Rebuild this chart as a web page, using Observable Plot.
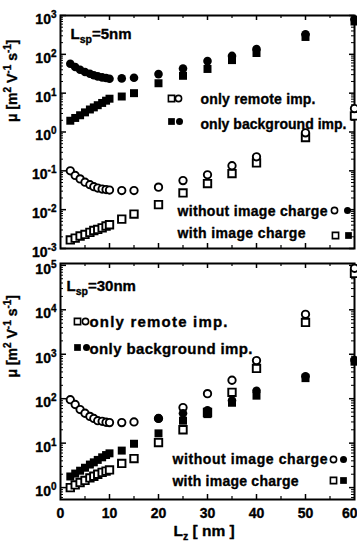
<!DOCTYPE html>
<html><head><meta charset="utf-8">
<script src="https://cdn.jsdelivr.net/npm/d3@7"></script>
<script src="https://cdn.jsdelivr.net/npm/@observablehq/plot@0.6"></script>
<style>
html,body{margin:0;padding:0;background:#fff;}
#chart{width:357px;height:542px;position:relative;overflow:hidden;background:#fff;}
#chart svg{display:block;overflow:visible;}
</style></head><body><div id="chart"></div>
<script>
// ---- data ----
const lz = [2, 3, 4, 5, 6, 6.8, 7.6, 8.5, 9.3, 10, 12.5, 15, 20, 25, 30, 35, 40, 50, 60];

// Panel 1: L_sp = 5 nm
const p1RemoteNoImage = [0.1, 0.076, 0.062, 0.051, 0.044, 0.039, 0.036, 0.034, 0.033, 0.032, 0.031, 0.031, 0.038, 0.056, 0.079, 0.135, 0.23, 0.95, 4];
const p1RemoteImage   = [0.00166, 0.00185, 0.0021, 0.0023, 0.0026, 0.0029, 0.0031, 0.0034, 0.0038, 0.0041, 0.0057, 0.0077, 0.0135, 0.027, 0.047, 0.085, 0.16, 0.72, 2.6];
const p1BgNoImage     = [57, 47, 40, 35, 31.5, 29, 27, 25.5, 24.5, 23.5, 24, 25, 31, 43, 67, 91, 137, 330, 800];
const p1BgImage       = [1.95, 2.3, 2.7, 3.2, 3.8, 4.3, 4.9, 5.6, 6.4, 7.2, 8.2, 10, 18, 28, 42, 71, 108, 280, 700];

// Panel 2: L_sp = 30 nm
const p2RemoteNoImage = [95, 74, 57, 47, 40, 36, 32, 31, 29.5, 29, 29, 30, 36, 63, 130, 260, 720, 7900, 86000];
const p2RemoteImage   = [1.0, 1.15, 1.3, 1.45, 1.65, 1.8, 2.0, 2.2, 2.35, 2.5, 3.5, 4.5, 10.3, 20, 49, 139, 480, 5200, 66000];
const p2BgNoImage     = [null, null, null, null, null, null, null, null, null, null, null, null, 36, 47, 55, 91, 150, 320, 740];
const p2BgImage       = [1.78, 2.07, 2.4, 2.8, 3.3, 3.7, 4.2, 4.8, 5.4, 5.9, 6.8, 9.7, 16.6, 32, 45, 81, 117, 290, 680];

// ticks
const p1Decades = [1e-3, 1e-2, 1e-1, 1, 10, 100, 1000];
const p2Decades = [1, 10, 100, 1e3, 1e4, 1e5];
const xLabelTicks = [0, 10, 20, 30, 40, 50];
const xLastLabel = [60];
const xMajorTicks = [10, 20, 30, 40, 50];
const xMinorTicks = [5, 15, 25, 35, 45, 55];

// legend / annotation texts
const yTitle = "μ [m^{2} V^{-1} s^{-1}]";
const xTitle = "L_{z} [ nm ]";
const p1Label = "L_{sp}=5nm";
const p2Label = "L_{sp}=30nm";
const lgRemote = "only remote imp.";
const lgBackground = "only background imp.";
const lgWithout = "without image charge";
const lgWith = "with image charge";

// ---- layout ----
const W = 357, ML = 60, MR = 3;
const FW = W - ML - MR;
const FONT = "'Liberation Sans', Arial, Helvetica, sans-serif";
const TXT = {fill: "black", stroke: "black", strokeWidth: 0.35};

const markStyles = {
  openSquare:   {symbol: "square", r: 4.2, fill: "white", stroke: "black", strokeWidth: 1.9},
  openCircle:   {symbol: "circle", r: 3.7, fill: "white", stroke: "black", strokeWidth: 1.9},
  filledSquare: {symbol: "square", r: 4.5, fill: "black"},
  filledCircle: {symbol: "circle", r: 4.3, fill: "black"}
};
const legendStyles = {
  openSquare:   {symbol: "square", r: 3.5, fill: "white", stroke: "black", strokeWidth: 1.6},
  openCircle:   {symbol: "circle", r: 3.1, fill: "white", stroke: "black", strokeWidth: 1.6},
  filledSquare: {symbol: "square", r: 3.8, fill: "black"},
  filledCircle: {symbol: "circle", r: 3.5, fill: "black"}
};

function buildPanel(cfg) {
  const FH = cfg.height - cfg.mt - cfg.mb;
  const minor = [];
  const bases = [cfg.decades[0] / 10, ...cfg.decades];
  for (const d of bases) for (let k = 2; k <= 9; k++) {
    const v = d * k;
    if (v >= cfg.yDomain[0] && v <= cfg.yDomain[1]) minor.push(v);
  }
  const marks = [];
  // ticks
  marks.push(Plot.tickY(cfg.decades, {y: d => d, insetRight: FW - 6, strokeWidth: 1.5}));
  marks.push(Plot.tickY(minor, {y: d => d, insetRight: FW - 3, strokeWidth: 1}));
  marks.push(Plot.tickY(cfg.decades, {y: d => d, insetLeft: FW - 5, strokeWidth: 1.5}));
  marks.push(Plot.tickY(minor, {y: d => d, insetLeft: FW - 3, strokeWidth: 1}));
  marks.push(Plot.tickX(xMajorTicks, {x: d => d, insetBottom: FH - 5, strokeWidth: 1.5}));
  marks.push(Plot.tickX(xMinorTicks, {x: d => d, insetBottom: FH - 3, strokeWidth: 1.2}));
  marks.push(Plot.tickX(xMajorTicks, {x: d => d, insetTop: FH - 5, strokeWidth: 1.5}));
  marks.push(Plot.tickX(xMinorTicks, {x: d => d, insetTop: FH - 3, strokeWidth: 1.2}));
  marks.push(Plot.frame({stroke: "black", strokeWidth: 2}));
  // y tick labels
  marks.push(Plot.text(cfg.decades, {
    y: d => d, frameAnchor: "left", dx: -4, dy: 4, textAnchor: "end",
    text: d => `10^{${Math.round(Math.log10(d))}}`, fontSize: 14, ...TXT
  }));
  // y title
  marks.push(Plot.text([yTitle], {
    text: d => d, frameAnchor: "left", dx: -48, dy: cfg.titleDy, rotate: -90, fontSize: 14, ...TXT
  }));
  // x labels
  if (cfg.xLabels) {
    marks.push(Plot.text(xLabelTicks, {x: d => d, text: d => String(d), frameAnchor: "bottom", dy: 18,
      lineAnchor: "bottom", textAnchor: "middle", fontSize: 14, ...TXT}));
    marks.push(Plot.text(xLastLabel, {x: d => d, text: d => String(d), frameAnchor: "bottom", dy: 18,
      lineAnchor: "bottom", textAnchor: "end", dx: 3, fontSize: 14, ...TXT}));
    marks.push(Plot.text([xTitle], {text: d => d, frameAnchor: "bottom-left", dx: 173 - ML, dy: 36,
      lineAnchor: "bottom", textAnchor: "start", fontSize: 15.5, ...TXT}));
  }
  // data series
  const ser = (arr, st) => Plot.dot(lz, {x: d => d, y: (d, i) => arr[i], ...markStyles[st]});
  marks.push(ser(cfg.remoteImage, "openSquare"));
  marks.push(ser(cfg.remoteNoImage, "openCircle"));
  marks.push(ser(cfg.bgImage, "filledSquare"));
  marks.push(ser(cfg.bgNoImage, "filledCircle"));
  // legend texts
  for (const t of cfg.texts) {
    marks.push(Plot.text([t.t], {text: d => d, frameAnchor: "top-left", dx: t.x - ML, dy: t.y - cfg.offset - cfg.mt,
      lineAnchor: "bottom", textAnchor: "start", fontSize: t.size || 14, ...TXT}));
  }
  for (const m of cfg.symbols) {
    marks.push(Plot.dot([0], {frameAnchor: "top-left", dx: m.x - ML, dy: m.y - cfg.offset - cfg.mt, ...legendStyles[m.k]}));
  }
  const svg = Plot.plot({
    width: W, height: cfg.height,
    marginLeft: ML, marginRight: MR, marginTop: cfg.mt, marginBottom: cfg.mb,
    x: {domain: [0, 60], axis: null},
    y: {type: "log", domain: cfg.yDomain, axis: null},
    style: {fontFamily: FONT, fontWeight: "bold", background: "transparent", overflow: "visible"},
    marks
  });
  // rich text: superscripts / subscripts
  const ns = "http://www.w3.org/2000/svg";
  svg.querySelectorAll("text").forEach(el => {
    const s = el.textContent;
    const lenItem = cfg.texts.find(t => t.t === s && t.len);
    if (lenItem) { el.setAttribute("textLength", lenItem.len); el.setAttribute("lengthAdjust", "spacing"); }
    if (!/[\^_]\{/.test(s)) return;
    while (el.firstChild) el.removeChild(el.firstChild);
    const re = /([\^_])\{([^}]*)\}|([^\^_]+)/g;
    let m, shift = 0;
    while ((m = re.exec(s))) {
      const ts = document.createElementNS(ns, "tspan");
      if (m[1]) {
        const target = m[1] === "^" ? -6 : 4;
        ts.setAttribute("dy", target - shift); shift = target;
        ts.setAttribute("font-size", m[1] === "^" ? 10 : 10.5);
        ts.textContent = m[2];
      } else {
        if (shift) { ts.setAttribute("dy", -shift); shift = 0; }
        ts.textContent = m[3];
      }
      el.appendChild(ts);
    }
  });
  return svg;
}

const chart = document.getElementById("chart");
chart.appendChild(buildPanel({
  height: 256, mt: 15, mb: 8, offset: 0, yDomain: [1e-3, 1e3], decades: p1Decades, titleDy: -10,
  remoteNoImage: p1RemoteNoImage, remoteImage: p1RemoteImage, bgNoImage: p1BgNoImage, bgImage: p1BgImage,
  xLabels: false,
  texts: [
    {t: p1Label, x: 70, y: 38, size: 15},
    {t: lgRemote, x: 200, y: 103, len: 115},
    {t: lgBackground, x: 200, y: 128, len: 146},
    {t: lgWithout, x: 177, y: 215, len: 150},
    {t: lgWith, x: 177, y: 237, len: 128}
  ],
  symbols: [
    {x: 171, y: 98, k: "openSquare"}, {x: 178, y: 98, k: "openCircle"},
    {x: 171, y: 121, k: "filledSquare"}, {x: 179, y: 121, k: "filledCircle"},
    {x: 334, y: 210, k: "openCircle"}, {x: 347, y: 210, k: "filledCircle"},
    {x: 335, y: 235, k: "openSquare"}, {x: 348, y: 235, k: "filledSquare"}
  ]
}));
chart.appendChild(buildPanel({
  height: 286, mt: 7, mb: 43, offset: 256, yDomain: [0.54, 1.1e5], decades: p2Decades, titleDy: -4,
  remoteNoImage: p2RemoteNoImage, remoteImage: p2RemoteImage, bgNoImage: p2BgNoImage, bgImage: p2BgImage,
  xLabels: true,
  texts: [
    {t: p2Label, x: 66, y: 290, size: 15},
    {t: lgRemote, x: 89, y: 326, len: 138, size: 15},
    {t: lgBackground, x: 89, y: 353, len: 163, size: 15},
    {t: lgWithout, x: 172, y: 463, len: 155},
    {t: lgWith, x: 172, y: 485, len: 126}
  ],
  symbols: [
    {x: 77, y: 321, k: "openSquare"}, {x: 85, y: 321, k: "openCircle"},
    {x: 77, y: 347, k: "filledSquare"}, {x: 86, y: 347, k: "filledCircle"},
    {x: 333, y: 459, k: "openCircle"}, {x: 343, y: 459, k: "filledCircle"},
    {x: 333, y: 480, k: "openSquare"}, {x: 343, y: 480, k: "filledSquare"}
  ]
}));
</script>
</body></html>
